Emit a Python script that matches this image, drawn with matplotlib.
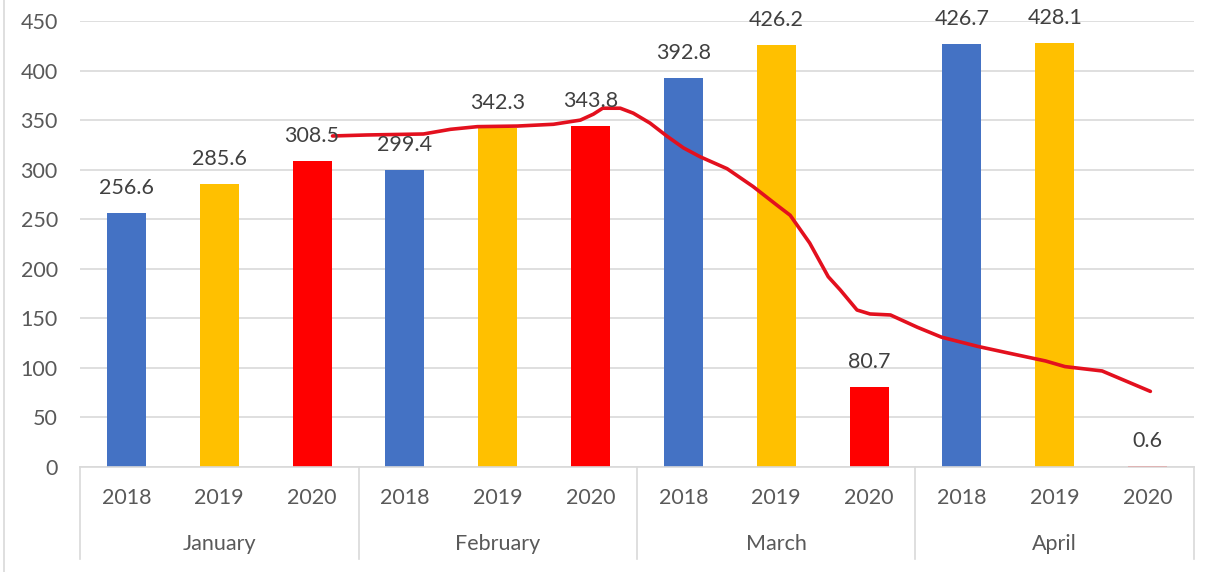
import matplotlib
matplotlib.use("Agg")
import matplotlib.pyplot as plt
import matplotlib.transforms as mtransforms

plt.rcParams['font.family'] = ['Lato', 'DejaVu Sans']

months = ["January", "February", "March", "April"]
years = ["2018", "2019", "2020"]
values = [256.6, 285.6, 308.5,
          299.4, 342.3, 343.8,
          392.8, 426.2, 80.7,
          426.7, 428.1, 0.6]
year_colors = {"2018": "#4472C4", "2019": "#FFC000", "2020": "#FF0000"}

# red trend line (x in bar-slot units, y in value units)
line_x = [2.22, 2.59, 3.20, 3.49, 3.78, 4.21, 4.60, 4.89, 5.03, 5.13, 5.32, 5.46,
          5.64, 5.82, 6.00, 6.18, 6.47, 6.75, 7.01, 7.15, 7.36, 7.56, 7.69, 7.87,
          8.01, 8.23, 8.52, 8.78, 9.17, 9.50, 9.90, 10.11, 10.51, 10.76, 11.03]
line_y = [334, 335, 336, 340.7, 343.4, 344, 345.8, 350, 356, 362, 362, 357,
          347, 334, 322, 313, 301, 283, 264, 254, 226, 192, 178.6, 158.4,
          154.4, 153.4, 141, 131, 121.7, 115, 107, 101.3, 96.9, 87, 76.3]

fig = plt.figure(figsize=(12.19, 5.72), dpi=100)
ax = fig.add_axes([80/1219, 1-467/572, (1194-80)/1219, (467-21)/572])

n = len(values)
xs = list(range(n))
cols = [year_colors[years[i % 3]] for i in range(n)]
ax.bar(xs, values, width=0.42, color=cols, zorder=2)

ax.plot(line_x, line_y, color="#E3101E", lw=2.6, zorder=3,
        solid_capstyle='round', solid_joinstyle='round')

txt_col = "#404040"
for x, v in zip(xs, values):
    ax.annotate(f"{v:.1f}", (x, v), xytext=(0, 18), textcoords="offset points",
                ha="center", va="center", fontsize=15.5, color=txt_col, zorder=4)

ax.set_xlim(-0.5, n - 0.5)
ax.set_ylim(0, 450)
ax.set_yticks(range(0, 451, 50))
ax.tick_params(axis='y', length=0, pad=16, labelsize=15.5, labelcolor="#595959")
ax.set_xticks([])
ax.grid(axis='y', color="#D9D9D9", lw=1.2, zorder=0)
ax.set_axisbelow(True)
for s in ["top", "right", "left"]:
    ax.spines[s].set_visible(False)
ax.spines["bottom"].set_color("#D9D9D9")
ax.spines["bottom"].set_linewidth(1.2)

trans = mtransforms.blended_transform_factory(ax.transData, ax.transAxes)
for i in range(n):
    ax.text(i, -0.0695, years[i % 3], transform=trans, ha="center", va="center",
            fontsize=15.5, color="#595959")
for m, name in enumerate(months):
    ax.text(3 * m + 1, -0.1726, name, transform=trans, ha="center", va="center",
            fontsize=15.5, color="#595959")
for b in [-0.5, 2.5, 5.5, 8.5, 11.5]:
    ax.plot([b, b], [0, -0.206], transform=trans, color="#D9D9D9", lw=1.2, clip_on=False)

fig.add_artist(plt.Line2D([4/1219, 4/1219], [0, 1], transform=fig.transFigure,
                          color="#D9D9D9", lw=1.2))

fig.savefig("out.png", dpi=100)
